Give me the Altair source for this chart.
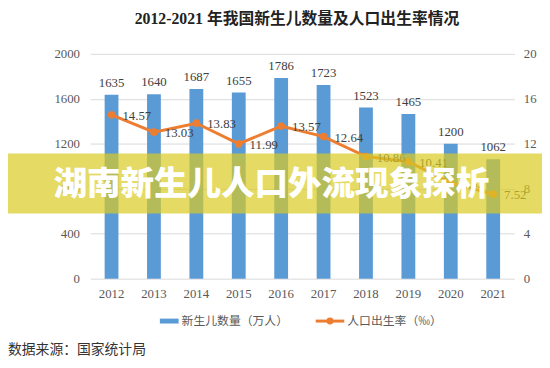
import altair as alt
import pandas as pd

years = ["2012", "2013", "2014", "2015", "2016", "2017", "2018", "2019", "2020", "2021"]
births = [1635, 1640, 1687, 1655, 1786, 1723, 1523, 1465, 1200, 1062]
rates = [14.57, 13.03, 13.83, 11.99, 13.57, 12.64, 10.86, 10.41, 8.52, 7.52]
left_ticks = [0, 400, 800, 1200, 1600, 2000]
right_ticks = [0, 4, 8, 12, 16, 20]

title_text = "2012-2021 年我国新生儿数量及人口出生率情况"
banner_text = "湖南新生儿人口外流现象探析"
legend_bar = "新生儿数量（万人）"
legend_line = "人口出生率（‰）"
source_text = "数据来源：国家统计局"

BLUE = "#5B9BD5"
ORANGE = "#ED7D31"
SERIF = "Liberation Serif, Noto Sans CJK SC"
CJK = "Noto Sans CJK SC"

df = pd.DataFrame({"year": years, "births": births, "rate": rates})
one = pd.DataFrame({"k": [0]})

W, H = 430, 228

x = alt.X("year:N", title=None,
          scale=alt.Scale(paddingInner=0.6, paddingOuter=0.3),
          axis=alt.Axis(labelAngle=0, ticks=False, domain=False, labelPadding=9,
                        labelFont=SERIF, labelFontSize=13, labelColor="#595959"))

base = alt.Chart(df)

yl = alt.Y("births:Q", title=None, scale=alt.Scale(domain=[0, 2000]),
           axis=alt.Axis(values=left_ticks, format="d", grid=True, gridColor="#D9D9D9",
                         domain=False, ticks=False, labelPadding=11, labelFont=SERIF,
                         labelFontSize=13, labelColor="#595959"))
yr = alt.Y("rate:Q", title=None, scale=alt.Scale(domain=[0, 20]),
           axis=alt.Axis(orient="right", values=right_ticks, format="d", grid=False,
                         domain=False, ticks=False, labelPadding=9, labelFont=SERIF,
                         labelFontSize=13, labelColor="#595959"))

bars = base.mark_bar(size=14, color=BLUE).encode(x=x, y=yl)
bar_labels = base.mark_text(baseline="bottom", dy=-5, font=SERIF, fontSize=13,
                            color="#404040").encode(x=x, y=yl, text="births:Q")
left = alt.layer(bars, bar_labels)

line = base.mark_line(color=ORANGE, strokeWidth=3).encode(x=x, y=yr)
points = base.mark_point(filled=True, color=ORANGE, size=60, opacity=1).encode(x=x, y=yr)
line_labels = base.mark_text(align="left", baseline="middle", dx=11, dy=1, font=SERIF,
                             fontSize=13, color="#404040").encode(
    x=x, y=yr, text=alt.Text("rate:Q", format=".2f"))
right = alt.layer(line, points, line_labels)

oc = alt.Chart(one)
banner = oc.mark_rect(color="#D8CA22", opacity=0.7).encode(
    x=alt.value(-91.5), x2=alt.value(458.5), y=alt.value(101), y2=alt.value(162))
banner_t = oc.mark_text(text=banner_text, font=CJK, fontSize=34, fontWeight=900,
                        color="white", align="center", baseline="middle").encode(
    x=alt.value(183.5), y=alt.value(133))
title = oc.mark_text(text=title_text, font=SERIF, fontSize=16, fontWeight="bold",
                     color="#222222", align="center", baseline="middle").encode(
    x=alt.value(209.5), y=alt.value(-35))
leg_bar = oc.mark_rect(color=BLUE).encode(
    x=alt.value(70.5), x2=alt.value(89.5), y=alt.value(268.5), y2=alt.value(273.5))
leg_bar_t = oc.mark_text(text=legend_bar, font=CJK, fontSize=12, color="#595959",
                         align="left", baseline="middle").encode(
    x=alt.value(92.5), y=alt.value(271))
leg_line = oc.mark_rule(color=ORANGE, strokeWidth=3).encode(
    x=alt.value(228.5), x2=alt.value(257.5), y=alt.value(271))
leg_pt = oc.mark_point(filled=True, color=ORANGE, size=50, opacity=1).encode(
    x=alt.value(243), y=alt.value(271))
leg_line_t = oc.mark_text(text=legend_line, font=CJK, fontSize=12, color="#595959",
                          align="left", baseline="middle").encode(
    x=alt.value(260.5), y=alt.value(271))
source = oc.mark_text(text=source_text, font=CJK, fontSize=14, color="#333333",
                      align="left", baseline="middle").encode(
    x=alt.value(-83.5), y=alt.value(300))

chart = alt.layer(
    left, right, banner, banner_t, title, leg_bar, leg_bar_t, leg_line, leg_pt,
    leg_line_t, source
).resolve_scale(y="independent").properties(
    width=W, height=H,
    autosize=alt.AutoSizeParams(type="none"),
    padding={"left": 83.5, "top": 44, "right": 28, "bottom": 80},
    background="white",
).configure_view(stroke=None)

chart.save("out.html", embed_options={"renderer": "svg", "actions": False})
